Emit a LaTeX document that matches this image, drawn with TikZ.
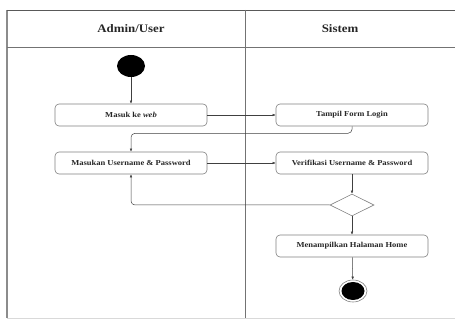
\documentclass[tikz,border=0pt]{standalone}
\usepackage{fontspec}
\setmainfont{Liberation Serif}
\newfontfamily\diafont[FakeStretch=1.12]{Liberation Serif}
\usetikzlibrary{shapes.geometric,arrows.meta}

\tikzset{
	couloir/.style={font=\diafont\bfseries\fontsize{11.5}{13}\selectfont, text=black!85},
	activite/.style={draw=black!50, line width=0.6pt, rounded corners=4pt, minimum width=152pt, minimum height=22pt, inner sep=0pt, font=\diafont\bfseries\fontsize{7.6}{9}\selectfont, text=black!85},
	decision/.style={diamond, draw=black!50, line width=0.6pt, minimum width=44pt, minimum height=22pt, inner sep=0pt},
	debut/.style={ellipse, fill=black, minimum width=28pt, minimum height=22pt, inner sep=0pt},
	fin/.style={ellipse, draw=black!50, line width=0.6pt, minimum width=28pt, minimum height=22pt, inner sep=0pt, path picture={\fill (path picture bounding box.center) ellipse (11.5pt and 9pt);}},
	fleche/.style={draw=black!75, line width=0.5pt, -{Latex[length=3pt,width=2.6pt]}}
}

\begin{document}
\begin{tikzpicture}[x=1pt, y=-1pt]

	\def\g{7} % bord gauche
	
	\def\d{455} % bord droit
	
	\def\m{245} % separation des couloirs
	
	\def\h{10} % haut du cadre
	
	\def\t{47} % bas de l'en-tete
	
	\def\b{318} % bas du cadre
	
	\useasboundingbox (0, 0) rectangle (455, 320);
	
	\draw[black!45, line width=1.3pt] (\g, \h) -- (\g, \b);
	\draw[black!65, line width=0.8pt] (\g, \h) -- (\d, \h);
	\draw[black!55, line width=0.7pt] (\g, \t) -- (\d, \t);
	\draw[black!55, line width=0.9pt] (\m, \h) -- (\m, \b);
	\draw[black!15, line width=0.8pt] (\g, \b) -- (\d, \b);
	
	\node[couloir] (admin) at (131, 29) {Admin/User};
	\node[couloir] (sistem) at (340, 29) {Sistem};
	
	\node[debut] (debut) at (131, 66) {};
	\node[activite] (masuk) at (131, 115) {Masuk ke \textit{web}};
	\node[activite] (tampil) at (352, 115) {Tampil Form Login};
	\node[activite] (masukan) at (131, 163) {Masukan Username \& Password};
	\node[activite] (verif) at (352, 163) {Verifikasi Username \& Password};
	\node[decision] (choix) at (352, 205) {};
	\node[activite] (home) at (352, 246) {Menampilkan Halaman Home};
	\node[fin] (fin) at (353, 291) {};
	
	\draw[fleche] (debut) -- (masuk);
	\draw[fleche] (masuk) -- (tampil);
	\draw[fleche, rounded corners=4pt] (tampil.south) -- ++(0, 7) -| (masukan.north);
	\draw[fleche] (masukan) -- (verif);
	\draw[fleche] (verif) -- (choix);
	\draw[fleche, rounded corners=4pt] (choix.west) -| (masukan.south);
	\draw[fleche] (choix) -- (home);
	\draw[fleche] (home) -- (fin);

\end{tikzpicture}
\end{document}
